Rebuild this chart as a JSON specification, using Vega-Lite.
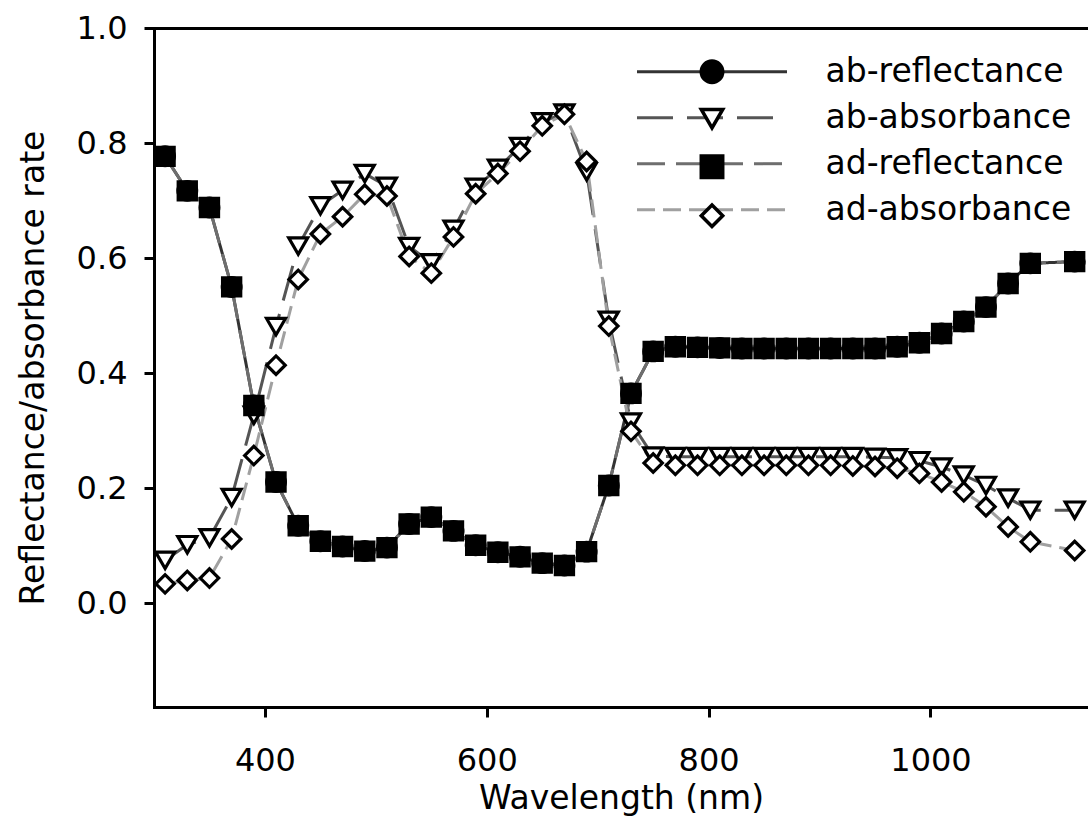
{
  "$schema": "https://vega.github.io/schema/vega-lite/v6.json",
  "width": 934,
  "height": 679,
  "autosize": {"type": "none"},
  "padding": {"left": 154, "top": 28, "right": 0, "bottom": 118},
  "background": "white",
  "config": {
    "view": {"stroke": null},
    "font": "DejaVu Sans",
    "axis": {
      "grid": false,
      "domainColor": "black",
      "domainWidth": 3,
      "domainCap": "square",
      "tickColor": "black",
      "tickWidth": 3,
      "tickSize": 10,
      "labelFont": "DejaVu Sans",
      "labelFontSize": 32,
      "labelColor": "black",
      "titleFont": "DejaVu Sans",
      "titleFontSize": 33,
      "titleFontWeight": "normal",
      "titleColor": "black"
    }
  },
  "data": {
    "values": [
      {"wl": 310, "series": "ab-reflectance", "v": 0.777}, {"wl": 310, "series": "ab-absorbance", "v": 0.075}, {"wl": 310, "series": "ad-reflectance", "v": 0.777}, {"wl": 310, "series": "ad-absorbance", "v": 0.034},
      {"wl": 330, "series": "ab-reflectance", "v": 0.717}, {"wl": 330, "series": "ab-absorbance", "v": 0.102}, {"wl": 330, "series": "ad-reflectance", "v": 0.717}, {"wl": 330, "series": "ad-absorbance", "v": 0.040},
      {"wl": 350, "series": "ab-reflectance", "v": 0.688}, {"wl": 350, "series": "ab-absorbance", "v": 0.114}, {"wl": 350, "series": "ad-reflectance", "v": 0.688}, {"wl": 350, "series": "ad-absorbance", "v": 0.044},
      {"wl": 370, "series": "ab-reflectance", "v": 0.550}, {"wl": 370, "series": "ab-absorbance", "v": 0.184}, {"wl": 370, "series": "ad-reflectance", "v": 0.550}, {"wl": 370, "series": "ad-absorbance", "v": 0.112},
      {"wl": 390, "series": "ab-reflectance", "v": 0.344}, {"wl": 390, "series": "ab-absorbance", "v": 0.327}, {"wl": 390, "series": "ad-reflectance", "v": 0.344}, {"wl": 390, "series": "ad-absorbance", "v": 0.257},
      {"wl": 410, "series": "ab-reflectance", "v": 0.211}, {"wl": 410, "series": "ab-absorbance", "v": 0.481}, {"wl": 410, "series": "ad-reflectance", "v": 0.211}, {"wl": 410, "series": "ad-absorbance", "v": 0.414},
      {"wl": 430, "series": "ab-reflectance", "v": 0.135}, {"wl": 430, "series": "ab-absorbance", "v": 0.621}, {"wl": 430, "series": "ad-reflectance", "v": 0.135}, {"wl": 430, "series": "ad-absorbance", "v": 0.563},
      {"wl": 450, "series": "ab-reflectance", "v": 0.108}, {"wl": 450, "series": "ab-absorbance", "v": 0.691}, {"wl": 450, "series": "ad-reflectance", "v": 0.108}, {"wl": 450, "series": "ad-absorbance", "v": 0.642},
      {"wl": 470, "series": "ab-reflectance", "v": 0.099}, {"wl": 470, "series": "ab-absorbance", "v": 0.718}, {"wl": 470, "series": "ad-reflectance", "v": 0.099}, {"wl": 470, "series": "ad-absorbance", "v": 0.672},
      {"wl": 490, "series": "ab-reflectance", "v": 0.091}, {"wl": 490, "series": "ab-absorbance", "v": 0.747}, {"wl": 490, "series": "ad-reflectance", "v": 0.091}, {"wl": 490, "series": "ad-absorbance", "v": 0.711},
      {"wl": 510, "series": "ab-reflectance", "v": 0.097}, {"wl": 510, "series": "ab-absorbance", "v": 0.725}, {"wl": 510, "series": "ad-reflectance", "v": 0.097}, {"wl": 510, "series": "ad-absorbance", "v": 0.708},
      {"wl": 530, "series": "ab-reflectance", "v": 0.138}, {"wl": 530, "series": "ab-absorbance", "v": 0.620}, {"wl": 530, "series": "ad-reflectance", "v": 0.138}, {"wl": 530, "series": "ad-absorbance", "v": 0.603},
      {"wl": 550, "series": "ab-reflectance", "v": 0.150}, {"wl": 550, "series": "ab-absorbance", "v": 0.592}, {"wl": 550, "series": "ad-reflectance", "v": 0.150}, {"wl": 550, "series": "ad-absorbance", "v": 0.574},
      {"wl": 570, "series": "ab-reflectance", "v": 0.126}, {"wl": 570, "series": "ab-absorbance", "v": 0.650}, {"wl": 570, "series": "ad-reflectance", "v": 0.126}, {"wl": 570, "series": "ad-absorbance", "v": 0.637},
      {"wl": 590, "series": "ab-reflectance", "v": 0.101}, {"wl": 590, "series": "ab-absorbance", "v": 0.723}, {"wl": 590, "series": "ad-reflectance", "v": 0.101}, {"wl": 590, "series": "ad-absorbance", "v": 0.712},
      {"wl": 610, "series": "ab-reflectance", "v": 0.089}, {"wl": 610, "series": "ab-absorbance", "v": 0.756}, {"wl": 610, "series": "ad-reflectance", "v": 0.089}, {"wl": 610, "series": "ad-absorbance", "v": 0.747},
      {"wl": 630, "series": "ab-reflectance", "v": 0.081}, {"wl": 630, "series": "ab-absorbance", "v": 0.794}, {"wl": 630, "series": "ad-reflectance", "v": 0.081}, {"wl": 630, "series": "ad-absorbance", "v": 0.786},
      {"wl": 650, "series": "ab-reflectance", "v": 0.070}, {"wl": 650, "series": "ab-absorbance", "v": 0.837}, {"wl": 650, "series": "ad-reflectance", "v": 0.070}, {"wl": 650, "series": "ad-absorbance", "v": 0.830},
      {"wl": 670, "series": "ab-reflectance", "v": 0.066}, {"wl": 670, "series": "ab-absorbance", "v": 0.852}, {"wl": 670, "series": "ad-reflectance", "v": 0.066}, {"wl": 670, "series": "ad-absorbance", "v": 0.850},
      {"wl": 690, "series": "ab-reflectance", "v": 0.090}, {"wl": 690, "series": "ab-absorbance", "v": 0.750}, {"wl": 690, "series": "ad-reflectance", "v": 0.090}, {"wl": 690, "series": "ad-absorbance", "v": 0.768},
      {"wl": 710, "series": "ab-reflectance", "v": 0.205}, {"wl": 710, "series": "ab-absorbance", "v": 0.492}, {"wl": 710, "series": "ad-reflectance", "v": 0.205}, {"wl": 710, "series": "ad-absorbance", "v": 0.482},
      {"wl": 730, "series": "ab-reflectance", "v": 0.365}, {"wl": 730, "series": "ab-absorbance", "v": 0.315}, {"wl": 730, "series": "ad-reflectance", "v": 0.365}, {"wl": 730, "series": "ad-absorbance", "v": 0.299},
      {"wl": 750, "series": "ab-reflectance", "v": 0.438}, {"wl": 750, "series": "ab-absorbance", "v": 0.256}, {"wl": 750, "series": "ad-reflectance", "v": 0.438}, {"wl": 750, "series": "ad-absorbance", "v": 0.244},
      {"wl": 770, "series": "ab-reflectance", "v": 0.446}, {"wl": 770, "series": "ab-absorbance", "v": 0.255}, {"wl": 770, "series": "ad-reflectance", "v": 0.446}, {"wl": 770, "series": "ad-absorbance", "v": 0.240},
      {"wl": 790, "series": "ab-reflectance", "v": 0.445}, {"wl": 790, "series": "ab-absorbance", "v": 0.255}, {"wl": 790, "series": "ad-reflectance", "v": 0.445}, {"wl": 790, "series": "ad-absorbance", "v": 0.240},
      {"wl": 810, "series": "ab-reflectance", "v": 0.444}, {"wl": 810, "series": "ab-absorbance", "v": 0.255}, {"wl": 810, "series": "ad-reflectance", "v": 0.444}, {"wl": 810, "series": "ad-absorbance", "v": 0.240},
      {"wl": 830, "series": "ab-reflectance", "v": 0.443}, {"wl": 830, "series": "ab-absorbance", "v": 0.255}, {"wl": 830, "series": "ad-reflectance", "v": 0.443}, {"wl": 830, "series": "ad-absorbance", "v": 0.240},
      {"wl": 850, "series": "ab-reflectance", "v": 0.443}, {"wl": 850, "series": "ab-absorbance", "v": 0.255}, {"wl": 850, "series": "ad-reflectance", "v": 0.443}, {"wl": 850, "series": "ad-absorbance", "v": 0.240},
      {"wl": 870, "series": "ab-reflectance", "v": 0.443}, {"wl": 870, "series": "ab-absorbance", "v": 0.255}, {"wl": 870, "series": "ad-reflectance", "v": 0.443}, {"wl": 870, "series": "ad-absorbance", "v": 0.240},
      {"wl": 890, "series": "ab-reflectance", "v": 0.443}, {"wl": 890, "series": "ab-absorbance", "v": 0.255}, {"wl": 890, "series": "ad-reflectance", "v": 0.443}, {"wl": 890, "series": "ad-absorbance", "v": 0.240},
      {"wl": 910, "series": "ab-reflectance", "v": 0.443}, {"wl": 910, "series": "ab-absorbance", "v": 0.255}, {"wl": 910, "series": "ad-reflectance", "v": 0.443}, {"wl": 910, "series": "ad-absorbance", "v": 0.240},
      {"wl": 930, "series": "ab-reflectance", "v": 0.443}, {"wl": 930, "series": "ab-absorbance", "v": 0.255}, {"wl": 930, "series": "ad-reflectance", "v": 0.443}, {"wl": 930, "series": "ad-absorbance", "v": 0.239},
      {"wl": 950, "series": "ab-reflectance", "v": 0.443}, {"wl": 950, "series": "ab-absorbance", "v": 0.254}, {"wl": 950, "series": "ad-reflectance", "v": 0.443}, {"wl": 950, "series": "ad-absorbance", "v": 0.238},
      {"wl": 970, "series": "ab-reflectance", "v": 0.446}, {"wl": 970, "series": "ab-absorbance", "v": 0.253}, {"wl": 970, "series": "ad-reflectance", "v": 0.446}, {"wl": 970, "series": "ad-absorbance", "v": 0.235},
      {"wl": 990, "series": "ab-reflectance", "v": 0.453}, {"wl": 990, "series": "ab-absorbance", "v": 0.248}, {"wl": 990, "series": "ad-reflectance", "v": 0.453}, {"wl": 990, "series": "ad-absorbance", "v": 0.226},
      {"wl": 1010, "series": "ab-reflectance", "v": 0.469}, {"wl": 1010, "series": "ab-absorbance", "v": 0.237}, {"wl": 1010, "series": "ad-reflectance", "v": 0.469}, {"wl": 1010, "series": "ad-absorbance", "v": 0.211},
      {"wl": 1030, "series": "ab-reflectance", "v": 0.490}, {"wl": 1030, "series": "ab-absorbance", "v": 0.223}, {"wl": 1030, "series": "ad-reflectance", "v": 0.490}, {"wl": 1030, "series": "ad-absorbance", "v": 0.194},
      {"wl": 1050, "series": "ab-reflectance", "v": 0.515}, {"wl": 1050, "series": "ab-absorbance", "v": 0.205}, {"wl": 1050, "series": "ad-reflectance", "v": 0.515}, {"wl": 1050, "series": "ad-absorbance", "v": 0.168},
      {"wl": 1070, "series": "ab-reflectance", "v": 0.556}, {"wl": 1070, "series": "ab-absorbance", "v": 0.183}, {"wl": 1070, "series": "ad-reflectance", "v": 0.556}, {"wl": 1070, "series": "ad-absorbance", "v": 0.133},
      {"wl": 1090, "series": "ab-reflectance", "v": 0.591}, {"wl": 1090, "series": "ab-absorbance", "v": 0.162}, {"wl": 1090, "series": "ad-reflectance", "v": 0.591}, {"wl": 1090, "series": "ad-absorbance", "v": 0.107},
      {"wl": 1130, "series": "ab-reflectance", "v": 0.594}, {"wl": 1130, "series": "ab-absorbance", "v": 0.162}, {"wl": 1130, "series": "ad-reflectance", "v": 0.594}, {"wl": 1130, "series": "ad-absorbance", "v": 0.092}
    ]
  },
  "layer": [
    {
      "mark": {"type": "line", "strokeWidth": 3},
      "encoding": {
        "x": {
          "field": "wl", "type": "quantitative",
          "scale": {"domain": [300, 1142], "nice": false, "zero": false},
          "axis": {"orient": "bottom", "values": [400, 600, 800, 1000], "format": "d", "title": "Wavelength (nm)", "labelPadding": 28, "titlePadding": 6}
        },
        "y": {
          "field": "v", "type": "quantitative",
          "scale": {"domain": [-0.18, 1.0], "nice": false, "zero": false},
          "axis": {"orient": "left", "values": [0, 0.2, 0.4, 0.6, 0.8, 1.0], "format": ".1f", "title": "Reflectance/absorbance rate", "labelPadding": 17, "titlePadding": 26}
        },
        "stroke": {
          "field": "series", "type": "nominal",
          "scale": {"domain": ["ab-reflectance", "ab-absorbance", "ad-reflectance", "ad-absorbance"], "range": ["#333333", "#555555", "#6e6e6e", "#a0a0a0"]},
          "legend": {"orient": "none", "direction": "vertical", "legendX": 466.5, "legendY": 27.2, "title": null, "padding": 0, "symbolType": "M 0 0 L 30 0", "symbolSize": 100, "symbolStrokeWidth": 3, "symbolFillColor": "transparent", "labelFont": "DejaVu Sans", "labelFontSize": 33, "labelColor": "black", "labelOffset": 172, "labelLimit": 400, "rowPadding": 12}
        },
        "strokeDash": {
          "field": "series", "type": "nominal",
          "scale": {"domain": ["ab-reflectance", "ab-absorbance", "ad-reflectance", "ad-absorbance"], "range": [[1, 0], [36, 14], [28, 11], [18, 8]]},
          "legend": {"orient": "none", "direction": "vertical", "legendX": 466.5, "legendY": 27.2, "title": null, "padding": 0, "symbolType": "M 0 0 L 30 0", "symbolSize": 100, "symbolStrokeWidth": 3, "symbolFillColor": "transparent", "labelFont": "DejaVu Sans", "labelFontSize": 33, "labelColor": "black", "labelOffset": 172, "labelLimit": 400, "rowPadding": 12}
        }
      }
    },
    {
      "mark": {"type": "point", "filled": true, "stroke": "black", "strokeWidth": 3.2, "opacity": 1},
      "encoding": {
        "x": {
          "field": "wl", "type": "quantitative",
          "axis": {"orient": "top", "labels": false, "ticks": false, "title": null, "domain": true}
        },
        "y": {
          "field": "v", "type": "quantitative",
          "axis": {"orient": "left", "values": [0, 0.2, 0.4, 0.6, 0.8, 1.0], "format": ".1f", "title": "Reflectance/absorbance rate", "labelPadding": 17, "titlePadding": 26}
        },
        "shape": {
          "field": "series", "type": "nominal",
          "scale": {"domain": ["ad-absorbance", "ad-reflectance", "ab-absorbance", "ab-reflectance"], "range": ["diamond", "square", "triangle-down", "circle"]},
          "legend": {"orient": "none", "direction": "vertical", "legendX": 541.5, "legendY": 27.2, "title": null, "padding": 0, "values": ["ab-reflectance", "ab-absorbance", "ad-reflectance", "ad-absorbance"], "symbolSize": 460, "symbolStrokeWidth": 3.5, "labelFont": "DejaVu Sans", "labelFontSize": 33, "labelExpr": "' '", "rowPadding": 12, "encode": {"symbols": {"update": {"stroke": {"value": "black"}, "strokeWidth": {"value": 3.5}}}}}
        },
        "fill": {
          "field": "series", "type": "nominal",
          "scale": {"domain": ["ad-absorbance", "ad-reflectance", "ab-absorbance", "ab-reflectance"], "range": ["white", "black", "white", "black"]},
          "legend": {"orient": "none", "direction": "vertical", "legendX": 541.5, "legendY": 27.2, "title": null, "padding": 0, "values": ["ab-reflectance", "ab-absorbance", "ad-reflectance", "ad-absorbance"], "symbolSize": 460, "symbolStrokeWidth": 3.5, "labelFont": "DejaVu Sans", "labelFontSize": 33, "labelExpr": "' '", "rowPadding": 12, "encode": {"symbols": {"update": {"stroke": {"value": "black"}, "strokeWidth": {"value": 3.5}}}}}
        },
        "size": {
          "field": "series", "type": "nominal",
          "scale": {"domain": ["ab-absorbance", "ab-reflectance", "ad-absorbance", "ad-reflectance"], "range": [360, 330, 380, 250]},
          "legend": null
        }
      }
    }
  ]
}
